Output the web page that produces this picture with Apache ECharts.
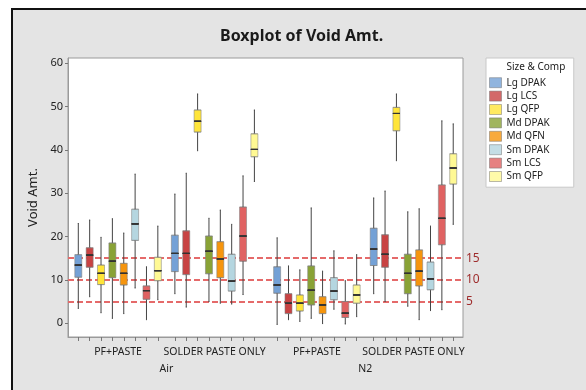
<!DOCTYPE html>
<html><head><meta charset="utf-8">
<script src="https://cdn.jsdelivr.net/npm/echarts@6/dist/echarts.min.js"></script>
<style>
html,body{margin:0;padding:0;background:#fff;}
#panel{position:absolute;left:11px;top:8px;width:575px;height:382px;background:#e4e4e4;border-left:2px solid #111;border-top:2px solid #111;box-sizing:border-box;}
#chart{position:absolute;left:0;top:0;width:586px;height:390px;}
</style></head><body>
<div id="panel"></div><div id="chart"></div>
<script>
// ---- data ----
const components = ['Lg DPAK','Lg LCS','Lg QFP','Md DPAK','Md QFN','Sm DPAK','Sm LCS','Sm QFP'];
const componentColors = ['#74A1D6','#C84343','#FFE53A','#89A236','#F6950D','#B5D6E0','#E06262','#FFF994'];
const atmospheres = ['Air','N2'];
const processes = ['PF+PASTE','SOLDER PASTE ONLY'];
// each box: [min, Q1, median, Q3, max]
const airPfPaste = [
  [3.4,10.6,13.4,15.8,23.0],[6.1,12.9,15.7,17.4,23.8],[2.4,8.9,11.5,13.4,19.8],[1.1,10.5,14.3,18.5,24.1],
  [2.2,8.8,11.5,13.8,20.8],[8.1,19.1,22.9,26.3,34.4],[0.8,5.5,7.5,8.6,13.0],[5.4,9.8,12.1,15.2,22.4]
];
const airSolderPasteOnly = [
  [6.8,11.9,16.1,20.3,29.8],[3.7,11.2,16.1,21.3,34.6],[39.8,44.1,46.6,49.2,52.9],[5.0,11.4,16.6,20.1,24.2],
  [4.6,10.5,14.8,18.8,26.1],[4.4,7.4,9.7,15.9,22.8],[6.6,14.3,20.1,26.8,34.0],[32.7,38.4,40.1,43.7,49.2]
];
const n2PfPaste = [
  [-0.3,6.9,8.8,13.0,19.7],[0.8,2.2,4.6,6.8,13.2],[0.4,2.8,4.6,6.5,12.3],[1.1,4.2,7.6,13.2,26.6],
  [-0.1,2.2,4.2,6.1,12.0],[3.2,5.4,7.4,10.5,16.7],[-0.2,1.3,2.3,5.0,9.8],[1.5,4.6,6.5,8.8,15.8]
];
const n2SolderPasteOnly = [
  [6.8,13.3,17.1,21.9,28.9],[5.0,12.9,15.9,20.4,30.5],[37.5,44.4,48.4,49.8,52.9],[3.9,6.8,11.5,15.9,25.7],
  [0.8,8.6,12.0,16.9,26.4],[2.9,7.7,10.2,14.1,22.4],[3.1,18.1,24.2,31.9,46.7],[22.8,32.1,35.8,39.1,46.0]
];
const referenceLines = [5,10,15];
const yTickValues = [0,10,20,30,40,50,60];

// ---- layout of groups on the x scale (slot units) ----
const groups = [
  {atm:0, proc:0, boxes:airPfPaste},
  {atm:0, proc:1, boxes:airSolderPasteOnly},
  {atm:1, proc:0, boxes:n2PfPaste},
  {atm:1, proc:1, boxes:n2SolderPasteOnly}
];
const GAP_IN = 1.5, GAP_OUT = 2.0;
const whiskerData = [], boxData = [], medianData = [], tickValues = [];
const groupLabelPos = [], groupLabelMap = {}, atmLabelPos = [], atmLabelMap = {};
const atmRange = {};
let start = 0;
groups.forEach((g, gi) => {
  if (gi > 0) start += (g.atm === groups[gi-1].atm ? GAP_IN : GAP_OUT);
  g.boxes.forEach((v, k) => {
    const x = start + k;
    whiskerData.push([x].concat(v));
    boxData.push({value:[x, v[1], v[1], v[2], v[3], v[3]], itemStyle:{color: componentColors[k]}});
    medianData.push([x, v[2], v[2], v[2], v[2], v[2]]);
    tickValues.push(x);
  });
  const c = start + (g.boxes.length - 1) / 2;
  groupLabelPos.push(c); groupLabelMap[c.toFixed(3)] = processes[g.proc];
  const r = atmRange[g.atm] || [Infinity, -Infinity];
  r[0] = Math.min(r[0], start); r[1] = Math.max(r[1], start + g.boxes.length - 1);
  atmRange[g.atm] = r;
  start += g.boxes.length - 1;
});
atmospheres.forEach((a, i) => {
  const c = (atmRange[i][0] + atmRange[i][1]) / 2;
  atmLabelPos.push(c); atmLabelMap[c.toFixed(3)] = a;
});
const XMIN = -0.907, XMAX = 33.86;
const FONT = 'Noto Sans';

const hiddenX = {type:'value', min:XMIN, max:XMAX, show:false};
const chart = echarts.init(document.getElementById('chart'), null, {renderer:'canvas'});
chart.setOption({
  animation:false,
  backgroundColor:'transparent',
  textStyle:{fontFamily:FONT},
  title:[
    {text:'Boxplot of Void Amt.', left:220, top:28, padding:0,
     textStyle:{fontSize:16, fontWeight:'bold', color:'#1a1a1a', fontFamily:FONT}},
    {text:'Size & Comp', left:506.5, top:62, padding:0,
     textStyle:{fontSize:10, fontWeight:'normal', color:'#222', fontFamily:FONT}}
  ],
  legend:{
    data:components, orient:'vertical', left:486, top:58,
    icon:'rect', itemWidth:12, itemHeight:10, itemGap:0,
    padding:[18,24,4,3], backgroundColor:'#fff', borderColor:'#c8c8c8', borderWidth:1,
    selectedMode:false,
    itemStyle:{borderColor:'rgba(110,110,110,0.6)', borderWidth:1},
    textStyle:{fontSize:10, lineHeight:13.4, color:'#222', fontFamily:FONT}
  },
  grid:{left:68, top:58, width:395, height:279, show:true, backgroundColor:'#fff',
        borderColor:'#9a9a9a', borderWidth:1, containLabel:false},
  xAxis:[
    {type:'value', min:XMIN, max:XMAX, position:'bottom',
     axisLine:{show:true, onZero:false, lineStyle:{color:'#9a9a9a', width:1}}, splitLine:{show:false},
     axisTick:{show:true, customValues:tickValues, length:4, lineStyle:{color:'#777', width:1}},
     axisLabel:{customValues:groupLabelPos, margin:10, fontSize:10.5, color:'#222', fontFamily:FONT,
       formatter:(v)=>groupLabelMap[Number(v).toFixed(3)] || ''}},
    {type:'value', min:XMIN, max:XMAX, position:'bottom',
     axisLine:{show:false, onZero:false}, splitLine:{show:false}, axisTick:{show:false},
     axisLabel:{customValues:atmLabelPos, margin:27, fontSize:10.5, color:'#222', fontFamily:FONT,
       formatter:(v)=>atmLabelMap[Number(v).toFixed(3)] || ''}},
    Object.assign({}, hiddenX),
    Object.assign({}, hiddenX)
  ],
  yAxis:{type:'value', min:-3.2, max:61.2,
    axisLine:{show:true, onZero:false, lineStyle:{color:'#9a9a9a', width:1}}, splitLine:{show:false},
    axisTick:{show:true, customValues:yTickValues, length:3, lineStyle:{color:'#777', width:1}},
    axisLabel:{customValues:yTickValues, margin:5, fontSize:11, color:'#222', fontFamily:FONT},
    name:'Void Amt.', nameLocation:'middle', nameGap:22,
    nameTextStyle:{fontSize:13, color:'#222', fontFamily:FONT}},
  series:[
    {type:'boxplot', name:'whiskers', xAxisIndex:0, yAxisIndex:0, z:2, silent:true,
     boxWidth:[1,1], data:whiskerData,
     itemStyle:{color:'#444', borderColor:'#444', borderWidth:1},
     markLine:{z:1, silent:true, symbol:'none',
       lineStyle:{color:'#E56A6A', width:2, type:[6,3]},
       label:{show:true, position:'end', distance:3, color:'#9E2B2B', fontSize:12, fontFamily:FONT, formatter:'{c}'},
       data:referenceLines.map(v=>({yAxis:v}))}},
    {type:'boxplot', name:'boxes', xAxisIndex:2, yAxisIndex:0, z:3, silent:true,
     boxWidth:[7,7], data:boxData,
     itemStyle:{borderColor:'rgba(130,130,130,0.55)', borderWidth:1}},
    {type:'boxplot', name:'medians', xAxisIndex:3, yAxisIndex:0, z:4, silent:true,
     boxWidth:[7,7], data:medianData,
     itemStyle:{color:'#333', borderColor:'#333', borderWidth:1}}
  ].concat(components.map((c,i)=>({type:'scatter', name:c, data:[], xAxisIndex:0, yAxisIndex:0,
     itemStyle:{color:componentColors[i]}})))
});
</script></body></html>
